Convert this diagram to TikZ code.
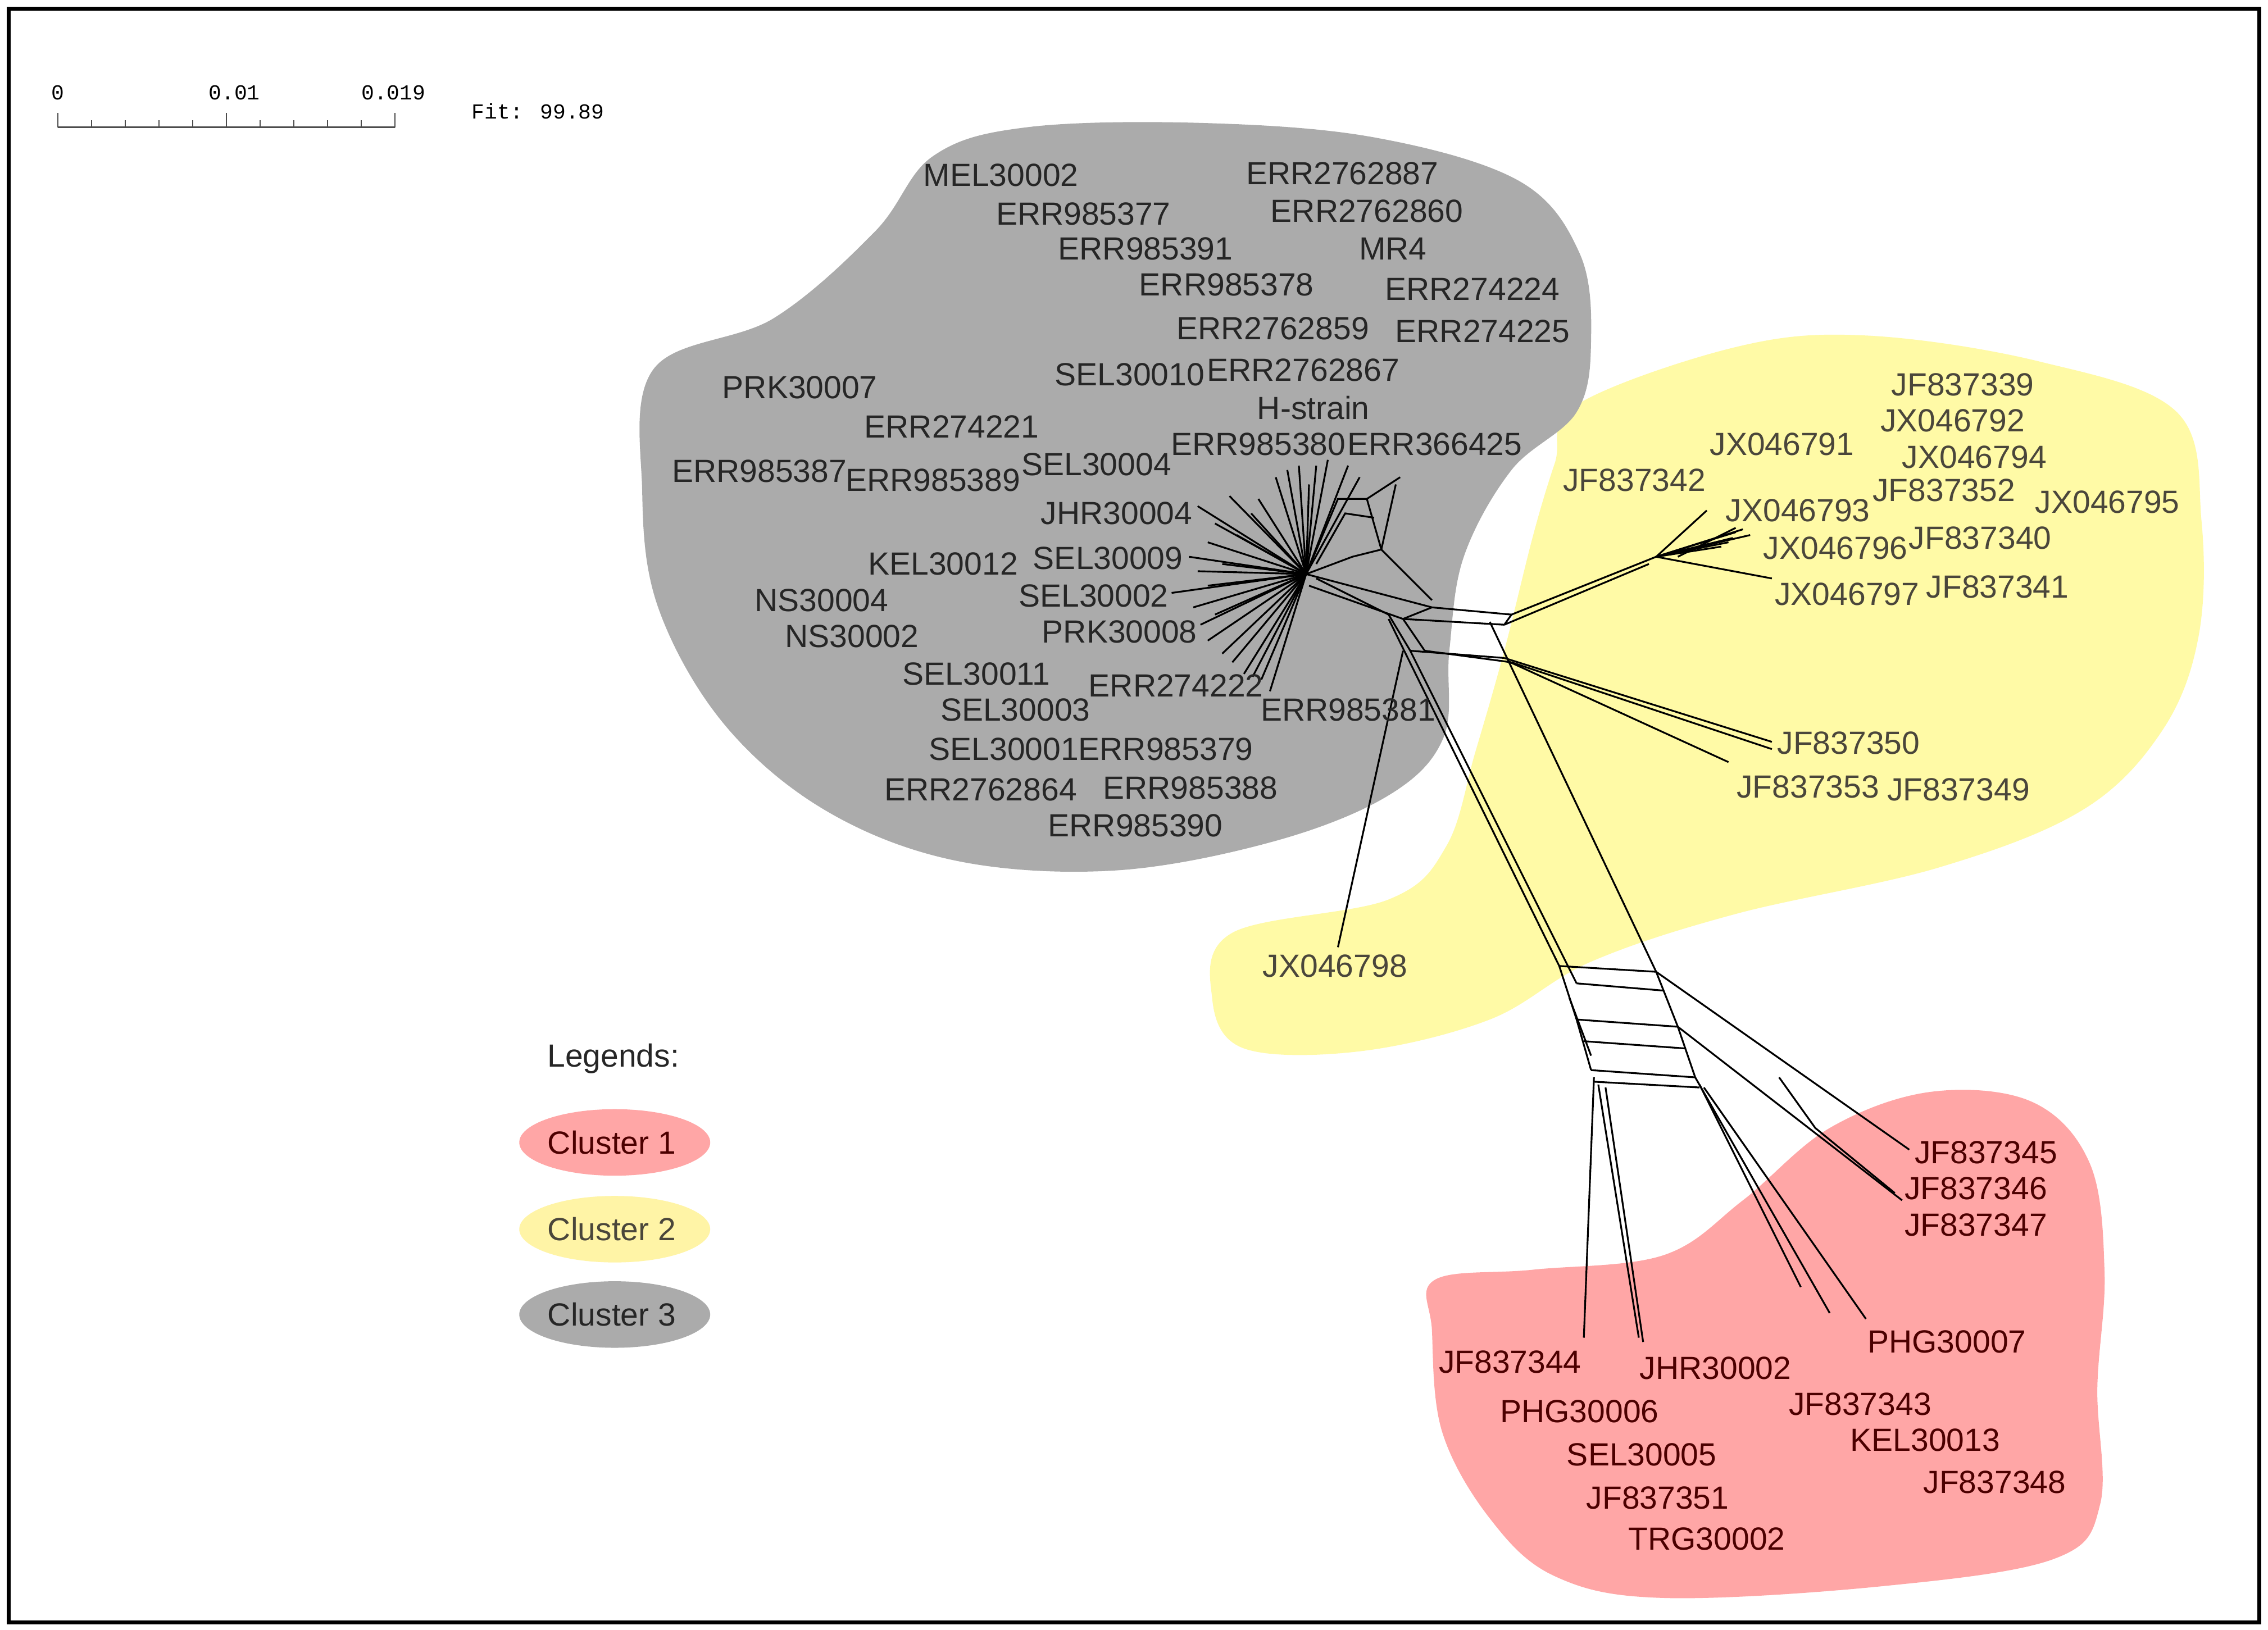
\documentclass[tikz,border=0pt]{standalone}
\usepackage{fontspec}
\setmainfont{Liberation Sans}
\newfontfamily\monof{Liberation Mono}
\begin{document}
\begin{tikzpicture}[x=0.01cm,y=-0.01cm,
  lab/.style={font=\fontsize{6.3}{7.5}\selectfont,inner sep=0pt},
  gl/.style={lab,text=black!85},
  yl/.style={lab,text=black!60!yellow!45!black},
  rl/.style={lab,text=red!30!black},
  ed/.style={line width=0.35pt,black}]
\useasboundingbox (0,0) rectangle (1568,1127);
\fill[white] (0,0) rectangle (1568,1127);
% blobs
\fill[yellow!35] plot[smooth cycle,tension=0.6] coordinates{(1090,280)(1200,240)(1290,232)(1410,250)(1505,285)(1522,360)(1520,440)(1495,505)(1440,560)(1340,600)(1200,632)(1100,665)(1030,705)(940,727)(860,725)(838,690)(852,645)(960,622)(1000,585)(1020,520)(1040,450)(1060,370)(1075,320)};
\fill[black!33] plot[smooth cycle,tension=0.6] coordinates{(452,255)(535,220)(605,160)(645,108)(710,88)(830,85)(950,95)(1050,125)(1092,175)(1100,235)(1090,285)(1045,325)(1012,385)(1002,450)(998,510)(960,550)(880,582)(770,602)(660,595)(570,560)(500,500)(455,420)(444,340)};
\fill[red!35!white] plot[smooth cycle,tension=0.6] coordinates{(992,885)(1060,878)(1150,868)(1205,830)(1265,780)(1335,755)(1405,762)(1445,805)(1455,880)(1450,960)(1452,1040)(1420,1078)(1300,1097)(1150,1105)(1075,1090)(1030,1050)(997,990)(990,920)};
% border
\draw[line width=0.8pt] (6,6) rectangle (1562,1122);
% scale
\draw[line width=0.4pt,black!70] (40,88) -- (273,88);
\foreach \i in {0,...,10}{\draw[line width=0.3pt,black!70] (40+\i*23.3,88) -- (40+\i*23.3,83);}
\foreach \i in {0,5,10}{\draw[line width=0.3pt,black!70] (40+\i*23.3,88) -- (40+\i*23.3,78);}
\node[font=\monof\fontsize{4.2}{5}\selectfont] (s0) at (40,64) {0};
\node[font=\monof\fontsize{4.2}{5}\selectfont] (s1) at (162,64) {0.01};
\node[font=\monof\fontsize{4.2}{5}\selectfont] (s2) at (272,64) {0.019};
\node[font=\monof\fontsize{4.2}{5}\selectfont] (fit) at (372,77) {Fit: 99.89};
% legend
\node[gl] (legt) at (424,732) {Legends:};
\fill[red!35!white] (425,790) ellipse (66 and 23); \node[rl] (l1) at (423,790) {Cluster 1};
\fill[orange!25!yellow!35] (425,850) ellipse (66 and 23); \node[yl] (l2) at (423,850) {Cluster 2};
\fill[black!33] (425,909) ellipse (66 and 23); \node[gl] (l3) at (423,909) {Cluster 3};
% network coordinates
\coordinate (h) at (903,397);
\foreach \p in {(828,350),(822,385),(810,410),(830,432),(872,470),(878,478),(850,343),(840,362),(835,375),(828,395),(825,420),(835,443),(845,452),(852,458),(860,466),(866,468),(882,330),(890,325),(898,322),(905,335),(910,322),(918,318),(932,322),(940,330),(835,405),(845,390),(855,370),(865,355),(870,345),(840,425)}
  {\draw[ed] (h) -- \p;}
\coordinate (b1) at (925,345); \coordinate (b2) at (945,345); \coordinate (b3) at (955,380);
\coordinate (b4) at (935,385); \coordinate (b5) at (968,330);
\draw[ed] (h) -- (b1) -- (b2) -- (b3) -- (b4) -- (h);
\draw[ed] (b2) -- (b5); \draw[ed] (b3) -- (965,335);
\draw[ed] (910,390) -- (930,355) -- (950,358);
% main splits
\coordinate (m1) at (990,420); \coordinate (m2) at (1045,425);
\coordinate (n1) at (970,428); \coordinate (n2) at (1040,432);
\draw[ed] (h) -- (m1) -- (m2); \draw[ed] (905,405) -- (n1) -- (n2);
\draw[ed] (b3) -- (990,415); \draw[ed] (m1) -- (n1); \draw[ed] (m2) -- (n2);
\draw[ed] (910,400) -- (960,425) -- (975,450) -- (1040,455);
\draw[ed] (n1) -- (985,450) -- (1045,458);
% yellow branch
\coordinate (y0) at (1145,385);
\draw[ed] (m2) -- (y0); \draw[ed] (n2) -- (1140,390);
\foreach \p in {(1200,368),(1205,366),(1210,370),(1195,375),(1190,378),(1198,372),(1180,353),(1225,400)}{\draw[ed] (y0) -- \p;}
\draw[ed] (1160,385) -- (1200,365);
% JF837350/53
\draw[ed] (1040,455) -- (1225,513); \draw[ed] (1045,458) -- (1225,518);
\draw[ed] (1042,457) -- (1195,527);
% JX046798
\draw[ed] (970,450) -- (925,655);
% long lines to red region
\coordinate (g1) at (1078,668); \coordinate (g2) at (1145,672);
\coordinate (g3) at (1090,705); \coordinate (g4) at (1160,710);
\coordinate (g5) at (1100,740); \coordinate (g6) at (1172,745);
\draw[ed] (960,428) -- (g1); \draw[ed] (975,450) -- (1090,680);
\draw[ed] (1030,430) -- (g2);
\draw[ed] (g1) -- (g2); \draw[ed] (1090,680) -- (1150,685);
\draw[ed] (g1) -- (g3) -- (g5); \draw[ed] (g2) -- (g4) -- (g6);
\draw[ed] (1085,690) -- (1100,730);
\draw[ed] (g3) -- (g4); \draw[ed] (1095,720) -- (1165,725);
\draw[ed] (g5) -- (g6); \draw[ed] (1102,748) -- (1175,752);
\draw[ed] (g2) -- (1320,795); \draw[ed] (g4) -- (1315,830);
\draw[ed] (1230,745) -- (1255,780) -- (1310,825);
\draw[ed] (1102,745) -- (1095,925); \draw[ed] (1105,750) -- (1133,925);
\draw[ed] (1110,752) -- (1136,928);
\draw[ed] (1172,745) -- (1265,908); \draw[ed] (1178,752) -- (1290,912);
\draw[ed] (1175,750) -- (1245,890);
% gray labels
\foreach \n/\x/\y/\t in {a1/692/121/MEL30002,a2/928/120/ERR2762887,a3/749/148/ERR985377,a4/945/146/ERR2762860,a5/792/172/ERR985391,a6/963/172/MR4,a7/848/197/ERR985378,a8/1018/200/ERR274224,a9/880/227/ERR2762859,a10/1025/229/ERR274225,a11/781/259/SEL30010,a12/901/256/ERR2762867,a13/553/268/PRK30007,a14/908/282/H-strain,a15/658/295/ERR274221,a16/870/307/ERR985380,a17/992/307/ERR366425,a18/525/326/ERR985387,a19/645/332/ERR985389,a20/758/321/SEL30004,a21/772/355/JHR30004,a22/652/390/KEL30012,a23/766/386/SEL30009,a24/568/415/NS30004,a25/756/412/SEL30002,a26/589/440/NS30002,a27/774/437/PRK30008,a28/675/466/SEL30011,a29/813/474/ERR274222,a30/702/491/SEL30003,a31/932/491/ERR985381,a32/694/518/SEL30001,a33/806/518/ERR985379,a34/678/546/ERR2762864,a35/823/545/ERR985388,a36/785/571/ERR985390}
  {\node[gl] (\n) at (\x,\y) {\t};}
% yellow labels
\foreach \n/\x/\y/\t in {c1/1357/266/JF837339,c2/1350/291/JX046792,c3/1232/307/JX046791,c4/1365/316/JX046794,c5/1130/332/JF837342,c6/1344/339/JF837352,c7/1457/347/JX046795,c8/1243/353/JX046793,c9/1369/372/JF837340,c10/1269/379/JX046796,c11/1277/411/JX046797,c12/1381/406/JF837341,c13/1278/514/JF837350,c14/1250/544/JF837353,c15/1354/546/JF837349,c16/923/668/JX046798}
  {\node[yl] (\n) at (\x,\y) {\t};}
% red labels
\foreach \n/\x/\y/\t in {r1/1373/797/JF837345,r2/1366/822/JF837346,r3/1366/847/JF837347,r4/1346/928/PHG30007,r5/1044/942/JF837344,r6/1186/946/JHR30002,r7/1092/976/PHG30006,r8/1286/971/JF837343,r9/1331/996/KEL30013,r10/1135/1006/SEL30005,r11/1146/1036/JF837351,r12/1379/1025/JF837348,r13/1180/1064/TRG30002}
  {\node[rl] (\n) at (\x,\y) {\t};}
\end{tikzpicture}
\end{document}
